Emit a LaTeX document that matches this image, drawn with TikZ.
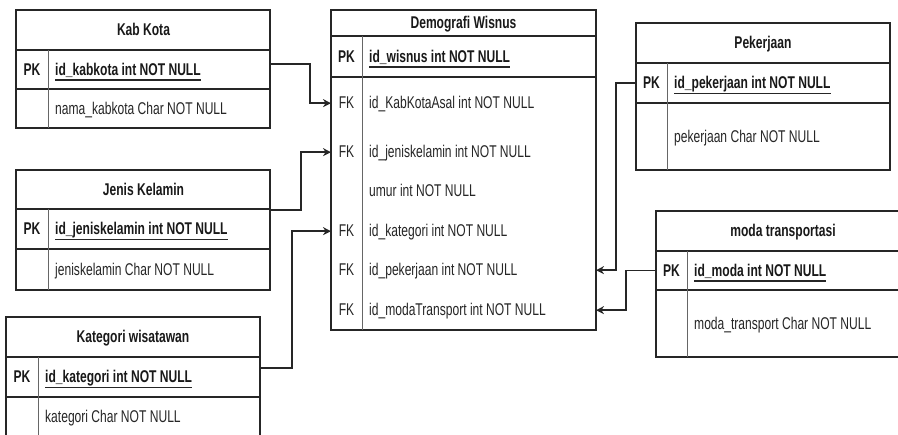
\documentclass[tikz,border=0pt]{standalone}
\usepackage{fontspec}
\setmainfont{Liberation Sans}[FakeStretch=0.71]
\usetikzlibrary{arrows.meta,calc}
\begin{document}
\begin{tikzpicture}[x=1pt,y=-1pt,
  row/.style={draw=black!85, line width=1.3pt, inner sep=0pt, outer sep=0pt, anchor=north west, minimum width=254pt},
  div/.style={draw=black!60, line width=1pt},
  hd/.style={font=\fontsize{17}{19}\selectfont\bfseries, text=black!90, inner sep=0pt, anchor=base},
  pk/.style={font=\fontsize{17}{19}\selectfont\bfseries, text=black!90, inner sep=0pt, anchor=base},
  fk/.style={font=\fontsize{17}{19}\selectfont, text=black!85, inner sep=0pt, anchor=base},
  fld/.style={font=\fontsize{17}{19}\selectfont, text=black!85, inner sep=0pt, anchor=base west},
  pkfld/.style={font=\fontsize{17}{19}\selectfont\bfseries, text=black!90, inner sep=0pt, anchor=base west},
  ul/.style={draw=black!85, line width=1.2pt},
  link/.style={draw=black!85, line width=1.3pt, -{Stealth[length=8pt,width=8pt]}}
]
\path[use as bounding box] (0,0) rectangle (898,435);
\clip (0,0) rectangle (898,435);
\fill[white] (0,0) rectangle (898,435);

% ---------------- Kab Kota ----------------
\node[row, minimum height=40pt] (kkh) at (16,10) {};
\node[row, minimum height=39pt] (kkpk) at (16,50) {};
\node[row, minimum height=39pt] (kkr1) at (16,89) {};
\draw[div] (48,50) -- (48,128);
\node[hd] (kkt) at (143.5,36) {Kab Kota};
\node[pk] (kkpkl) at (32,75.5) {PK};
\node[pkfld] (kkpkf) at (55,75.5) {id\_kabkota int NOT NULL};
\draw[ul] ([yshift=-4.5pt]kkpkf.base west) -- ([yshift=-4.5pt]kkpkf.base east);
\node[fld] (kkf1) at (55,114.5) {nama\_kabkota Char NOT NULL};

% ---------------- Jenis Kelamin ----------------
\node[row, minimum height=39pt] (jkh) at (16,170) {};
\node[row, minimum height=40pt] (jkpk) at (16,209) {};
\node[row, minimum height=41pt] (jkr1) at (16,249) {};
\draw[div] (48,209) -- (48,290);
\node[hd] (jkt) at (143.5,195.5) {Jenis Kelamin};
\node[pk] (jkpkl) at (32,235) {PK};
\node[pkfld] (jkpkf) at (55,235) {id\_jeniskelamin int NOT NULL};
\draw[ul] ([yshift=-4.5pt]jkpkf.base west) -- ([yshift=-4.5pt]jkpkf.base east);
\node[fld] (jkf1) at (55,275.5) {jeniskelamin Char NOT NULL};

% ---------------- Kategori wisatawan ----------------
\node[row, minimum height=40pt] (kth) at (6,317) {};
\node[row, minimum height=40pt] (ktpk) at (6,357) {};
\node[row, minimum height=48pt] (ktr1) at (6,397) {};
\draw[div] (38,357) -- (38,445);
\node[hd] (ktt) at (133,343) {Kategori wisatawan};
\node[pk] (ktpkl) at (22,383) {PK};
\node[pkfld] (ktpkf) at (45,383) {id\_kategori int NOT NULL};
\draw[ul] ([yshift=-4.5pt]ktpkf.base west) -- ([yshift=-4.5pt]ktpkf.base east);
\node[fld] (ktf1) at (45,423) {kategori Char NOT NULL};

% ---------------- Demografi Wisnus ----------------
\node[row, minimum width=265pt, minimum height=26pt] (dwh) at (331,10) {};
\node[row, minimum width=265pt, minimum height=41pt] (dwpk) at (331,36) {};
\node[row, minimum width=265pt, minimum height=253pt] (dwb) at (331,77) {};
\draw[div] (362,36) -- (362,330);
\node[hd] (dwt) at (463.5,29) {Demografi Wisnus};
\node[pk] (dwpkl) at (346.5,62.5) {PK};
\node[pkfld] (dwpkf) at (369,62.5) {id\_wisnus int NOT NULL};
\draw[ul] ([yshift=-4.5pt]dwpkf.base west) -- ([yshift=-4.5pt]dwpkf.base east);
\node[fk] (fk1) at (346.5,109) {FK};
\node[fld] (dwf1) at (369,109) {id\_KabKotaAsal int NOT NULL};
\node[fk] (fk2) at (346.5,158) {FK};
\node[fld] (dwf2) at (369,158) {id\_jeniskelamin int NOT NULL};
\node[fld] (dwf3) at (369,197) {umur int NOT NULL};
\node[fk] (fk4) at (346.5,237) {FK};
\node[fld] (dwf4) at (369,237) {id\_kategori int NOT NULL};
\node[fk] (fk5) at (346.5,276) {FK};
\node[fld] (dwf5) at (369,276) {id\_pekerjaan int NOT NULL};
\node[fk] (fk6) at (346.5,316) {FK};
\node[fld] (dwf6) at (369,316) {id\_modaTransport int NOT NULL};

% ---------------- Pekerjaan ----------------
\node[row, minimum height=40pt] (pjh) at (636,23) {};
\node[row, minimum height=40pt] (pjpk) at (636,63) {};
\node[row, minimum height=67pt] (pjr1) at (636,103) {};
\draw[div] (667,63) -- (667,170);
\node[hd] (pjt) at (763,49) {Pekerjaan};
\node[pk] (pjpkl) at (651.5,89) {PK};
\node[pkfld] (pjpkf) at (674,89) {id\_pekerjaan int NOT NULL};
\draw[ul] ([yshift=-4.5pt]pjpkf.base west) -- ([yshift=-4.5pt]pjpkf.base east);
\node[fld] (pjf1) at (674,143) {pekerjaan Char NOT NULL};

% ---------------- moda transportasi ----------------
\node[row, minimum height=40pt] (mdh) at (656,211) {};
\node[row, minimum height=39pt] (mdpk) at (656,251) {};
\node[row, minimum height=67pt] (mdr1) at (656,290) {};
\draw[div] (687,251) -- (687,357);
\node[hd] (mdt) at (783,237) {moda transportasi};
\node[pk] (mdpkl) at (671.5,276.5) {PK};
\node[pkfld] (mdpkf) at (694,276.5) {id\_moda int NOT NULL};
\draw[ul] ([yshift=-4.5pt]mdpkf.base west) -- ([yshift=-4.5pt]mdpkf.base east);
\node[fld] (mdf1) at (694,330) {moda\_transport Char NOT NULL};

% ---------------- connectors ----------------
\draw[link] ([yshift=5.5pt]kkpk.east) -- ++(40,0) |- (dwb.west |- fk1.center);
\draw[link] ([yshift=-1pt]jkpk.north east) -- ++(31,0) |- (dwb.west |- fk2.center);
\draw[link] ([yshift=9pt]ktpk.east) -- ++(32,0) |- (dwb.west |- fk4.center);
\draw[link] (pjpk.west) -- ++(-20,0) |- (dwb.east |- fk5.center);
\draw[link] (mdpk.west) -- ++(-30,0) |- (dwb.east |- fk6.center);
\end{tikzpicture}
\end{document}
